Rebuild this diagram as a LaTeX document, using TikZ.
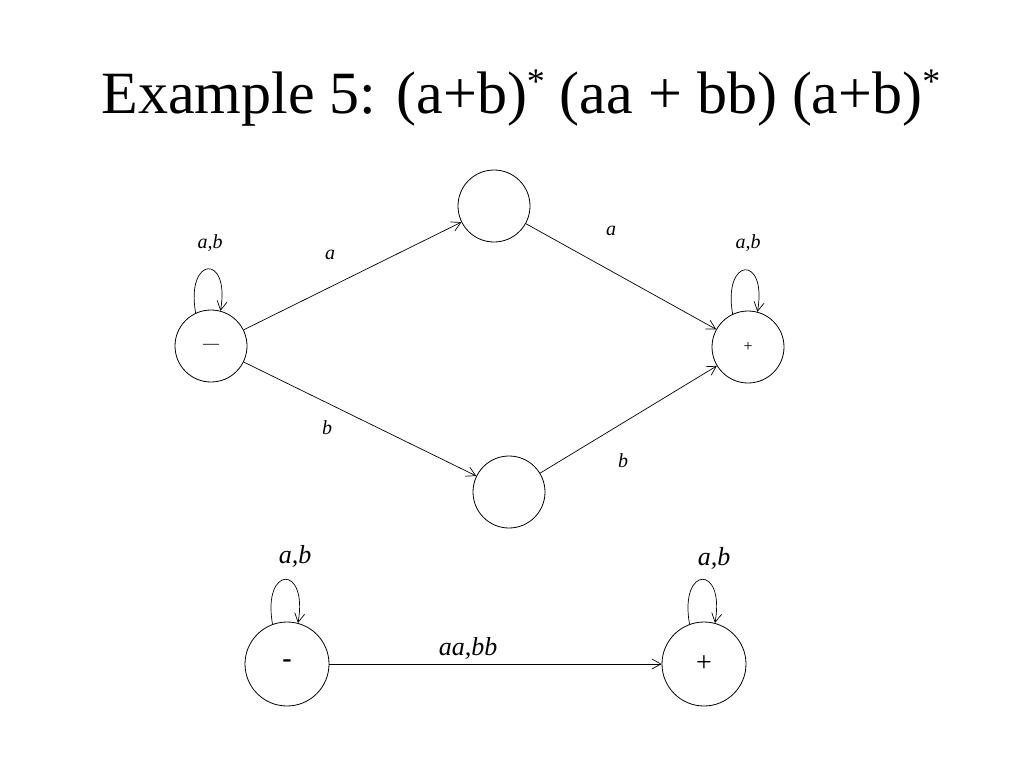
\documentclass[tikz,border=0pt]{standalone}
\usepackage{fontspec}
\setmainfont{Liberation Serif}
\usetikzlibrary{arrows.meta}
\begin{document}
\begin{tikzpicture}[x=1pt,y=-1pt,
  st/.style={draw,circle,minimum size=72pt,inner sep=0pt,line width=0.8pt},
  bst/.style={draw,circle,minimum size=84pt,inner sep=0pt,line width=0.8pt},
  ar/.style={-{Straight Barb[length=9pt,width=10pt]},line width=0.7pt},
  lp/.style={ar,looseness=6},
  lab/.style={font=\itshape\fontsize{20}{20}\selectfont},
  blab/.style={font=\itshape\fontsize{26}{26}\selectfont}]
\useasboundingbox (0,0) rectangle (1024,768);
\node (title) at (521,98) {\fontsize{60}{60}\selectfont Example 5: (a+b)\raisebox{20pt}{\fontsize{36}{36}\selectfont *} (aa + bb) (a+b)\raisebox{20pt}{\fontsize{36}{36}\selectfont *}};
\node[st] (s) at (211,346) {\fontsize{16}{16}\selectfont —};
\node[st] (u) at (494,206) {};
\node[st] (f) at (748,347) {\fontsize{16}{16}\selectfont +};
\node[st] (d) at (509,492) {};
\draw[ar] (s) -- (u);
\draw[ar] (u) -- (f);
\draw[ar] (s) -- (d);
\draw[ar] (d) -- (f);
\draw[lp] (s.115) to[out=100,in=80] (s.75);
\draw[lp] (f.115) to[out=100,in=80] (f.75);
\node[lab] (l1) at (210,243) {a,b};
\node[lab] (l2) at (330,255) {a};
\node[lab] (l3) at (611,231) {a};
\node[lab] (l4) at (748,243) {a,b};
\node[lab] (l5) at (327,428) {b};
\node[lab] (l6) at (623,461) {b};
\node[bst] (m) at (287,664) {\fontsize{28}{28}\selectfont\bfseries -};
\node[bst] (p) at (704,664) {\fontsize{28}{28}\selectfont +};
\draw[ar] (m) -- (p);
\draw[lp] (m.110) to[out=100,in=80] (m.75);
\draw[lp] (p.110) to[out=100,in=80] (p.75);
\node[blab] (b1) at (295,556) {a,b};
\node[blab] (b2) at (468,648) {aa,bb};
\node[blab] (b3) at (714,558) {a,b};
\end{tikzpicture}
\end{document}
